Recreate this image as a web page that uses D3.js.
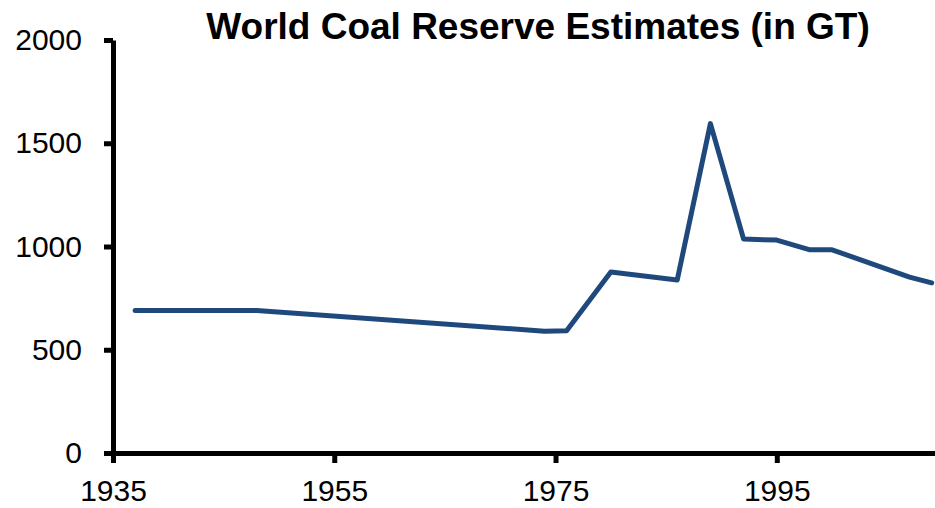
<!DOCTYPE html>
<html>
<head>
<meta charset="utf-8">
<script src="https://cdn.jsdelivr.net/npm/d3@7"></script>
<style>
    body { margin: 0; background: #fff; }
    svg { display: block; font-family: "Liberation Sans", Arial, sans-serif; }
    .axis path, .axis line { stroke: #000; stroke-width: 5; }
    .axis text { font-size: 30px; fill: #000; }
</style>
</head>
<body>
<svg id="chart" width="935" height="508"></svg>
<script>
'use strict';

// estimates, gigatonnes
const years = [1937, 1948, 1974, 1976, 1980, 1986, 1989, 1992, 1995, 1998, 2000, 2007, 2009];
const reserves = [690, 690, 590, 592, 876, 838, 1595, 1036, 1031, 984, 984, 852, 824];
const yTicks = [0, 500, 1000, 1500, 2000];
const xTicks = [1935, 1955, 1975, 1995];
const title = 'World Coal Reserve Estimates (in GT)';

const svg = d3.select('#chart');

const x = d3.scaleLinear()
    .domain([1935, 2009.3])
    .range([113, 935]);

const y = d3.scaleLinear()
    .domain([0, 2000])
    .range([453, 40]);

svg.append('g')
    .attr('class', 'axis')
    .attr('transform', 'translate(0,453)')
    .call(d3.axisBottom(x)
        .tickValues(xTicks)
        .tickFormat(d3.format('d'))
        .tickSize(10)
        .tickSizeOuter(0)
        .tickPadding(17));

svg.append('g')
    .attr('class', 'axis')
    .attr('transform', 'translate(113,0)')
    .call(d3.axisLeft(y)
        .tickValues(yTicks)
        .tickFormat(d3.format('d'))
        .tickSize(9)
        .tickSizeOuter(0)
        .tickPadding(22));

const line = d3.line()
    .x((d, i) => x(years[i]))
    .y(d => y(d));

svg.append('path')
    .datum(reserves)
    .attr('d', line)
    .attr('fill', 'none')
    .attr('stroke', '#1f497d')
    .attr('stroke-width', 5)
    .attr('stroke-linejoin', 'round')
    .attr('stroke-linecap', 'round');

svg.append('text')
    .attr('x', 538)
    .attr('y', 39)
    .attr('text-anchor', 'middle')
    .style('font-size', '37px')
    .style('font-weight', 'bold')
    .text(title);
</script>
</body>
</html>
